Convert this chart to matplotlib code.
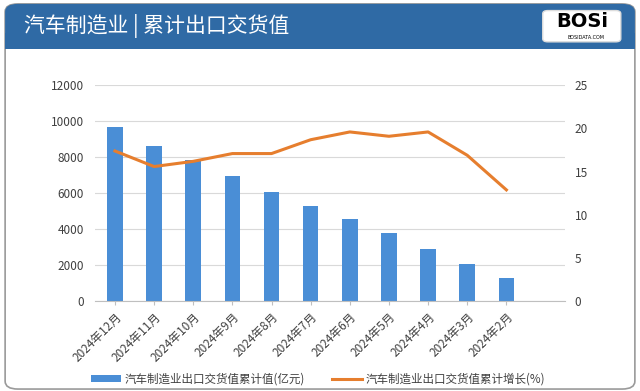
import matplotlib.pyplot as plt
from matplotlib.patches import FancyBboxPatch
from matplotlib.lines import Line2D
from matplotlib.patches import Patch

plt.rcParams['font.family'] = ['Noto Sans CJK SC', 'DejaVu Sans']

months = ['2024年12月', '2024年11月', '2024年10月', '2024年9月', '2024年8月',
          '2024年7月', '2024年6月', '2024年5月', '2024年4月', '2024年3月',
          '2024年2月']
export_value = [9660, 8610, 7830, 6980, 6090, 5320, 4560, 3780, 2910, 2080, 1320]
growth = [17.4, 15.6, 16.2, 17.1, 17.1, 18.7, 19.6, 19.1, 19.6, 16.9, 12.9]

bar_color = '#4A8ED6'
line_color = '#E67E2E'
head_color = '#2F6AA5'

fig = plt.figure(figsize=(6.4, 3.91), dpi=100)

# outer frame and header band
frame = FancyBboxPatch((0.008, 0.005), 0.984, 0.985, boxstyle='round,pad=0,rounding_size=0.02',
                       transform=fig.transFigure, facecolor='none', edgecolor='#9a9a9a',
                       linewidth=1.2, zorder=0)
fig.patches.append(frame)
head = FancyBboxPatch((0.008, 0.875), 0.984, 0.115, boxstyle='round,pad=0,rounding_size=0.02',
                      transform=fig.transFigure, facecolor=head_color, edgecolor='none', zorder=1)
fig.patches.append(head)
fig.patches.append(FancyBboxPatch((0.008, 0.875), 0.984, 0.04, boxstyle='square,pad=0',
                                  transform=fig.transFigure, facecolor=head_color,
                                  edgecolor='none', zorder=1))
fig.text(0.037, 0.934, '汽车制造业 | 累计出口交货值', color='white', fontsize=15,
         va='center', ha='left', zorder=3)

# logo box
logo = FancyBboxPatch((0.848, 0.893), 0.122, 0.08, boxstyle='round,pad=0,rounding_size=0.008',
                      transform=fig.transFigure, facecolor='white', edgecolor='#dddddd', zorder=2)
fig.patches.append(logo)
fig.text(0.909, 0.945, 'BOSi', color='black', fontsize=14, fontweight='bold',
         ha='center', va='center', family='DejaVu Sans', zorder=3)
fig.text(0.915, 0.905, 'BOSIDATA.COM', color='black', fontsize=3.5,
         ha='center', va='center', family='DejaVu Sans', zorder=3)

ax = fig.add_axes([0.149, 0.229, 0.734, 0.553], zorder=2)
ax.patch.set_alpha(0)
x = list(range(len(months)))
ax.bar(x, export_value, width=0.4, color=bar_color, zorder=2)
ax.set_xlim(-0.5, len(months) + 0.5)
ax.set_ylim(0, 12000)
ax.set_yticks(range(0, 12001, 2000))
ax.grid(axis='y', color='#d9d9d9', linewidth=0.8, zorder=0)
ax.set_axisbelow(True)
ax.set_xticks(x)
ax.set_xticklabels(months, rotation=45, ha='right', rotation_mode='anchor', fontsize=8.5,
                   color='#404040')
ax.tick_params(axis='x', length=3, color='#bfbfbf')
ax.tick_params(axis='y', length=0, labelsize=8.5, labelcolor='#404040', pad=8)
for s in ['top', 'right', 'left']:
    ax.spines[s].set_visible(False)
ax.spines['bottom'].set_color('#bfbfbf')

ax2 = ax.twinx()
ax2.plot(x, growth, color=line_color, linewidth=2.2, zorder=3)
ax2.set_ylim(0, 25)
ax2.set_yticks(range(0, 26, 5))
ax2.tick_params(axis='y', length=0, labelsize=8.5, labelcolor='#404040', pad=7)
for s in ['top', 'right', 'left', 'bottom']:
    ax2.spines[s].set_visible(False)

handles = [Patch(facecolor=bar_color, label='汽车制造业出口交货值累计值(亿元)'),
           Line2D([0], [0], color=line_color, linewidth=2.2, label='汽车制造业出口交货值累计增长(%)')]
fig.legend(handles=handles, loc='center', bbox_to_anchor=(0.497, 0.03), ncol=2, frameon=False,
           fontsize=8.3, handlelength=2.6, handleheight=0.6, handletextpad=0.3,
           columnspacing=2.4, labelcolor='#404040')

fig.savefig('out.png', dpi=100)
